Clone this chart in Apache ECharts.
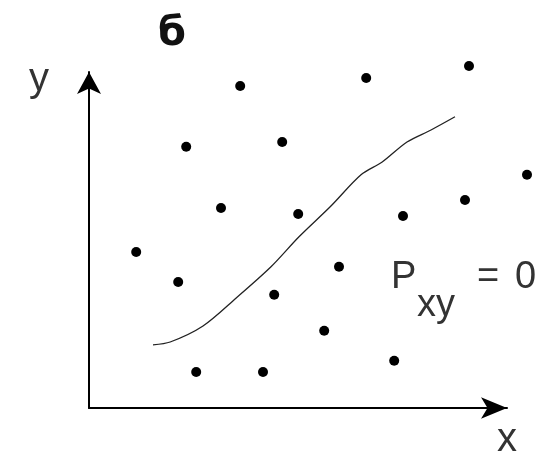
<!DOCTYPE html>
<html>
<head>
<meta charset="utf-8">
<script src="https://cdn.jsdelivr.net/npm/echarts@6/dist/echarts.min.js"></script>
<style>
  html, body { margin: 0; padding: 0; background: #fff; }
  #chart { width: 545px; height: 456px; }
</style>
</head>
<body>
<div id="chart"></div>
<script>
// scattered observations (arbitrary units)
var dotX = [3.78, 6.93, 9.50, 2.43, 4.83, 10.95, 3.30, 5.23, 7.85, 9.40, 1.18, 2.23, 6.25, 4.63, 5.88, 2.68, 4.35, 7.63];
var dotY = [8.05, 8.25, 8.55, 6.53, 6.65, 5.83, 5.00, 4.85, 4.80, 5.20, 3.90, 3.15, 3.53, 2.83, 1.93, 0.90, 0.90, 1.18];

// hand-drawn curve through the cloud
var curveX = [1.60, 2.03, 2.85, 3.68, 4.55, 5.25, 6.03, 6.80, 7.33, 7.95, 8.55, 9.15];
var curveY = [1.58, 1.65, 2.05, 2.75, 3.53, 4.28, 5.03, 5.83, 6.15, 6.65, 6.95, 7.28];

var chart = echarts.init(document.getElementById('chart'));

var dots = dotX.map(function (x, i) { return [x, dotY[i]]; });
var curve = curveX.map(function (x, i) { return [x, curveY[i]]; });

var txtFont = 'Liberation Sans';

var option = {
  backgroundColor: '#fff',
  animation: false,
  grid: { left: 89, right: 38, top: 72, bottom: 48 },
  xAxis: {
    type: 'value', min: 0, max: 10.45,
    axisLine: { show: true, symbol: ['none', 'arrow'], symbolSize: [16, 26], lineStyle: { color: '#000', width: 2 } },
    axisTick: { show: false }, axisLabel: { show: false }, splitLine: { show: false }
  },
  yAxis: {
    type: 'value', min: 0, max: 8.4,
    axisLine: { show: true, symbol: ['none', 'arrow'], symbolSize: [18, 22], lineStyle: { color: '#000', width: 2 } },
    axisTick: { show: false }, axisLabel: { show: false }, splitLine: { show: false }
  },
  series: [
    {
      type: 'line', data: curve, smooth: 0.3, showSymbol: false,
      lineStyle: { color: '#222', width: 1.3 }
    },
    {
      type: 'scatter', data: dots, symbolSize: 10, clip: false,
      itemStyle: { color: '#000', opacity: 1 }
    }
  ],
  graphic: [
    { type: 'text', left: 158, top: 15, style: { text: 'б', font: 'bold 40px "DejaVu Sans"', fill: '#111' } },
    { type: 'text', left: 29, top: 60, style: { text: 'y', font: '40px ' + txtFont, fill: '#333' } },
    { type: 'text', left: 497, top: 420, style: { text: 'x', font: '40px ' + txtFont, fill: '#333' } },
    { type: 'text', left: 391, top: 259, style: { text: 'P', font: '38px ' + txtFont, fill: '#333' } },
    { type: 'text', left: 417, top: 287, style: { text: 'xy', font: '38px ' + txtFont, fill: '#333' } },
    { type: 'text', left: 477, top: 259, style: { text: '=', font: '38px ' + txtFont, fill: '#333' } },
    { type: 'text', left: 515, top: 259, style: { text: '0', font: '38px ' + txtFont, fill: '#333' } }
  ]
};

chart.setOption(option);
</script>
</body>
</html>
